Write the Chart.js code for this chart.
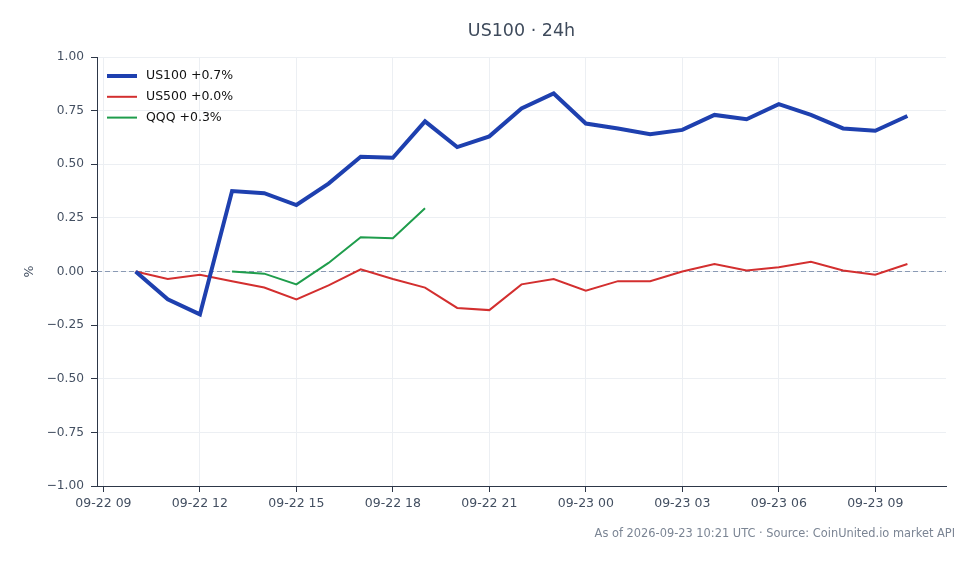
<!DOCTYPE html>
<html>
<head>
<meta charset="utf-8">
<title>US100 · 24h</title>
<script src="https://cdn.jsdelivr.net/npm/chart.js@4/dist/chart.umd.min.js"></script>
<style>
  html, body { margin: 0; padding: 0; background: #ffffff; }
  #wrap { position: relative; width: 978px; height: 564px; }
  #footer {
    position: absolute; right: 23px; top: 526px;
    font-family: "DejaVu Sans", sans-serif; font-size: 11.4px; color: #7b8594;
    white-space: nowrap;
  }
</style>
</head>
<body>
<div id="wrap">
  <canvas id="line_chart" width="978" height="564"></canvas>
  <div id="footer">As of 2026-09-23 10:21 UTC · Source: CoinUnited.io market API</div>
</div>
<script>
// hours counted from 09-22 00:00 UTC
var hours = [10, 11, 12, 13, 14, 15, 16, 17, 18, 19, 20, 21, 22, 23, 24, 25, 26, 27, 28, 29, 30, 31, 32, 33, 34];
var us100 = [0.00, -0.13, -0.20, 0.375, 0.365, 0.31, 0.41, 0.535, 0.53, 0.70, 0.58, 0.63, 0.76, 0.83, 0.69, 0.667, 0.64, 0.66, 0.73, 0.71, 0.78, 0.73, 0.667, 0.656, 0.725];
var us500 = [0.00, -0.035, -0.015, -0.045, -0.075, -0.13, -0.065, 0.01, -0.035, -0.075, -0.17, -0.18, -0.06, -0.035, -0.09, -0.045, -0.045, 0.00, 0.035, 0.005, 0.02, 0.045, 0.005, -0.015, 0.035];
var qqq = [null, null, null, 0.00, -0.01, -0.06, 0.04, 0.16, 0.155, 0.295, null, null, null, null, null, null, null, null, null, null, null, null, null, null, null];
var seriesNames = ["US100 +0.7%", "US500 +0.0%", "QQQ +0.3%"];
var xTicks = [9, 12, 15, 18, 21, 24, 27, 30, 33];
var xTickLabels = ["09-22 09", "09-22 12", "09-22 15", "09-22 18", "09-22 21", "09-23 00", "09-23 03", "09-23 06", "09-23 09"];
var yTicks = [-1, -0.75, -0.5, -0.25, 0, 0.25, 0.5, 0.75, 1];

Chart.defaults.font.family = "'DejaVu Sans', sans-serif";
Chart.defaults.color = '#434f61';

function toPoints(values) {
    return values.map(function (v, i) { return { x: hours[i], y: v }; });
}

var zeroLine = {
    id: 'zeroLine',
    beforeDatasetsDraw: function (chart) {
        var ctx = chart.ctx, area = chart.chartArea;
        var y = chart.scales.y.getPixelForValue(0);
        ctx.save();
        ctx.strokeStyle = '#8a9ab4';
        ctx.lineWidth = 1;
        ctx.setLineDash([5, 3]);
        ctx.beginPath();
        ctx.moveTo(area.left, y);
        ctx.lineTo(area.right, y);
        ctx.stroke();
        ctx.restore();
    }
};

// legend drawn inside the plot, top-left, like the original
var insideLegend = {
    id: 'insideLegend',
    afterDatasetsDraw: function (chart) {
        var ctx = chart.ctx, area = chart.chartArea;
        ctx.save();
        ctx.font = "12.5px 'DejaVu Sans', sans-serif";
        ctx.textBaseline = 'middle';
        chart.data.datasets.forEach(function (ds, i) {
            var y = area.top + 19 + i * 20.8;
            var x = area.left + 10;
            ctx.strokeStyle = ds.borderColor;
            ctx.lineWidth = ds.borderWidth;
            ctx.beginPath();
            ctx.moveTo(x, y);
            ctx.lineTo(x + 30, y);
            ctx.stroke();
            ctx.fillStyle = '#111111';
            ctx.fillText(ds.label, x + 39, y);
        });
        ctx.restore();
    }
};

new Chart(document.getElementById("line_chart").getContext("2d"), {
    type: 'line',
    data: {
        datasets: [{
            label: seriesNames[0],
            data: toPoints(us100),
            borderColor: '#1e40af',
            borderWidth: 4,
            pointRadius: 0
        }, {
            label: seriesNames[1],
            data: toPoints(us500),
            borderColor: '#d32f2f',
            borderWidth: 2,
            pointRadius: 0
        }, {
            label: seriesNames[2],
            data: toPoints(qqq),
            borderColor: '#1f9d4c',
            borderWidth: 2,
            pointRadius: 0,
            spanGaps: false
        }]
    },
    options: {
        responsive: false,
        animation: false,
        layout: { padding: { left: 0, right: 32, top: 0, bottom: 0 } },
        plugins: {
            title: {
                display: true,
                fullSize: false,
                text: 'US100 · 24h',
                color: '#3f4b5c',
                font: { size: 17.5, weight: 'normal' },
                padding: { top: 21, bottom: 15 }
            },
            legend: { display: false },
            tooltip: { enabled: false }
        },
        scales: {
            x: {
                type: 'linear',
                min: 8.8,
                max: 35.2,
                afterBuildTicks: function (scale) {
                    scale.ticks = xTicks.map(function (v) { return { value: v }; });
                },
                afterFit: function (scale) { scale.height = 78; },
                ticks: {
                    autoSkip: false,
                    maxRotation: 0,
                    padding: 4,
                    font: { size: 12.5 },
                    callback: function (v) { return xTickLabels[xTicks.indexOf(v)]; }
                },
                grid: { color: '#eceff3', tickColor: '#2d3748', tickLength: 6 },
                border: { color: '#2d3748', width: 1 }
            },
            y: {
                min: -1,
                max: 1,
                afterBuildTicks: function (scale) {
                    scale.ticks = yTicks.map(function (v) { return { value: v }; });
                },
                afterFit: function (scale) { scale.width = 97; },
                title: {
                    display: true,
                    text: '%',
                    font: { size: 12.5 },
                    padding: { top: 22, bottom: 0 }
                },
                ticks: {
                    padding: 7,
                    font: { size: 12.2 },
                    callback: function (v) {
                        return v < 0 ? '\u2212' + Math.abs(v).toFixed(2) : v.toFixed(2);
                    }
                },
                grid: { color: '#eceff3', tickColor: '#2d3748', tickLength: 6 },
                border: { color: '#2d3748', width: 1 }
            }
        }
    },
    plugins: [zeroLine, insideLegend]
});
</script>
</body>
</html>
